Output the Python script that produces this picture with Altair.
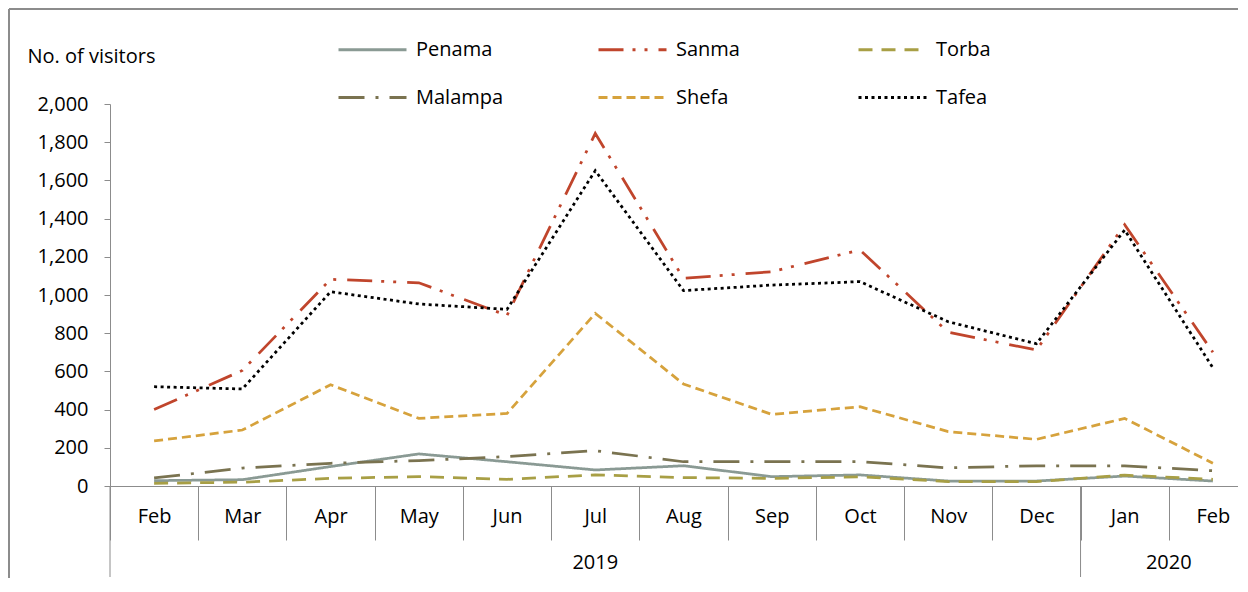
import altair as alt
import pandas as pd

months = ["Feb", "Mar", "Apr", "May", "Jun", "Jul", "Aug", "Sep", "Oct", "Nov", "Dec", "Jan", "Feb"]
years = ["2019", "2020"]
year_start = [0, 11]
year_end = [11, 13]

series = ["Penama", "Sanma", "Torba", "Malampa", "Shefa", "Tafea"]
penama = [28, 33, 102, 168, 127, 84, 106, 49, 58, 26, 26, 52, 26]
sanma = [400, 605, 1082, 1064, 893, 1846, 1087, 1122, 1236, 805, 712, 1368, 700]
torba = [14, 20, 40, 49, 35, 58, 44, 40, 48, 23, 23, 57, 35]
malampa = [42, 94, 119, 133, 154, 185, 127, 127, 127, 95, 106, 106, 80]
shefa = [236, 293, 530, 354, 380, 904, 534, 375, 415, 285, 244, 354, 119]
tafea = [520, 508, 1017, 953, 925, 1651, 1023, 1052, 1070, 860, 745, 1340, 619]

colors = ["#8A9A94", "#C0452C", "#A89F45", "#7A7350", "#D6A23C", "#000000"]
dashes = [[1, 0], [25, 9, 3, 9, 3, 11], [14, 9], [26, 11, 3, 11], [9, 5], [3, 3.5]]

# legend fills column by column (2 rows): reorder so it reads row by row
legend_order = [series[i] for i in (0, 3, 1, 4, 2, 5)]
legend_colors = [colors[i] for i in (0, 3, 1, 4, 2, 5)]
legend_dashes = [dashes[i] for i in (0, 3, 1, 4, 2, 5)]

rows = []
for name, vals in zip(series, [penama, sanma, torba, malampa, shefa, tafea]):
    for i, v in enumerate(vals):
        rows.append({"idx": i, "series": name, "visitors": v})
df = pd.DataFrame(rows)

label_expr = "[" + ",".join("'%s'" % m for m in months) + "][datum.value]"

W = 1125
H = 382
GRAY = "#8c8c8c"
FONT = "Open Sans"
FS = 20

x_scale = alt.Scale(type="band", domain=list(range(len(months))), range=[0, 1147],
                    paddingInner=0, paddingOuter=0)
x_axis = alt.Axis(title=None, labelExpr=label_expr, tickBand="extent", tickSize=54,
                  labelPadding=-34, labelFontSize=FS, labelColor="black", labelAngle=0,
                  domainColor=GRAY, tickColor=GRAY, grid=False)


def xenc(bp=0.5):
    return alt.X("idx:O", scale=x_scale, axis=x_axis, bandPosition=bp)


lines = alt.Chart(df).mark_line(strokeWidth=2.75).encode(
    x=xenc(),
    y=alt.Y("visitors:Q", scale=alt.Scale(domain=[0, 2000]),
            axis=alt.Axis(values=list(range(0, 2001, 200)), format=",.0f",
                          title="No. of visitors", titleAngle=0, titleAlign="left",
                          titleBaseline="alphabetic", titleX=-83, titleY=-42,
                          titleFontSize=FS, titleFontWeight="normal", titleColor="black",
                          labelFontSize=FS, labelColor="black", tickSize=6, labelPadding=16,
                          grid=False, domainColor=GRAY, tickColor=GRAY)),
    color=alt.Color("series:N", scale=alt.Scale(domain=legend_order, range=legend_colors), title=None),
    strokeDash=alt.StrokeDash("series:N", scale=alt.Scale(domain=legend_order, range=legend_dashes), title=None),
)

# year labels: centre of each year's span of months
layers = [lines]
for y, s, e in zip(years, year_start, year_end):
    c = (s + e) / 2.0
    b = int(c) if c < len(months) else len(months) - 1
    bp = c - b
    ydf = pd.DataFrame({"idx": [b], "year": [y]})
    layers.append(
        alt.Chart(ydf).mark_text(fontSize=FS, color="black", baseline="middle", align="center").encode(
            x=xenc(bp), y=alt.value(H + 77), text="year:N"
        )
    )

sep_df = pd.DataFrame({"idx": year_start})
seps = alt.Chart(sep_df).mark_rule(color=GRAY, strokeWidth=1).encode(
    x=xenc(0), y=alt.value(H), y2=alt.value(H + 91)
)
layers.append(seps)

border_left = alt.Chart(alt.Data(values=[{}])).mark_rule(color=GRAY, strokeWidth=2).encode(
    x=alt.value(-101), y=alt.value(-95), y2=alt.value(H + 100)
)
border_top = alt.Chart(alt.Data(values=[{}])).mark_rule(color=GRAY, strokeWidth=2).encode(
    x=alt.value(-101), x2=alt.value(W + 10), y=alt.value(-95)
)
layers += [border_left, border_top]

chart = alt.layer(*layers).properties(
    width=W, height=H,
    autosize=alt.AutoSizeParams(type="none"),
    padding={"left": 102, "top": 96, "right": 3, "bottom": 92},
).configure(font=FONT).configure_view(stroke=None).configure_legend(
    orient="none", legendX=227, legendY=-90, columns=3, gridAlign="all",
    symbolType="stroke", symbolSize=4624, symbolStrokeWidth=3,
    labelFontSize=FS, labelColor="black", labelOffset=8,
    columnPadding=88, rowPadding=2,
)

chart.save("out.html", embed_options={"renderer": "svg", "actions": False})
